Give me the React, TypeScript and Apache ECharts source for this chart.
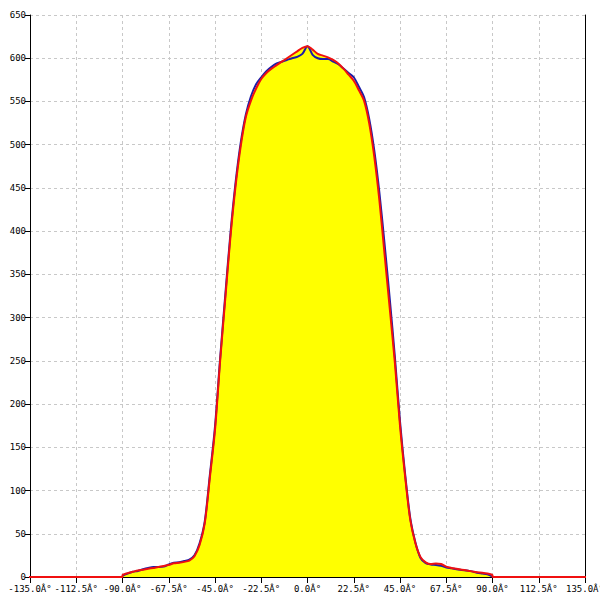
import React, { useEffect, useRef } from "react";
import * as echarts from "echarts";

const angles = [
  -90, -87.5, -85, -82.5, -80, -77.5, -75, -72.5, -70, -67.5, -65, -62.5, -60, -57.5, -55, -52.5,
  -50, -47.5, -45, -42.5, -40, -37.5, -35, -32.5, -30, -27.5, -25, -22.5, -20, -17.5, -15, -12.5,
  -10, -7.5, -5, -2.5, 0, 2.5, 5, 7.5, 10, 12.5, 15, 17.5, 20, 22.5, 25, 27.5, 30, 32.5, 35, 37.5,
  40, 42.5, 45, 47.5, 50, 52.5, 55, 57.5, 60, 62.5, 65, 67.5, 70, 72.5, 75, 77.5, 80, 82.5, 85,
  87.5, 90,
];

const redValues = [
  2, 4.5, 6, 7.5, 8.5, 9.5, 10.5, 11.5, 12.7, 14, 15.8, 16.5, 17.5, 19, 24, 37,
  62, 115, 170, 250, 322, 393, 452, 498, 532, 551, 565, 576, 583, 588, 592, 596,
  600, 604, 608, 612, 614, 610, 605, 603, 601, 598, 594, 588, 581, 574, 563, 551, 525, 486, 435, 373,
  311, 248, 175, 116, 66, 39, 23, 17, 15, 15.5, 15, 12, 10.5, 9.5, 8.5, 7.5, 6.5, 5.5, 5,
  4, 2,
];

const blueValues = [
  1.5, 4, 6, 7, 9, 10.5, 11.5, 11.5, 12, 14.5, 16.5, 17, 18.5, 20, 25, 39,
  64, 118, 174, 253, 326, 397, 456, 502, 535, 556, 570, 578, 585, 590, 594, 596,
  598, 600, 601.5, 605, 614, 604, 600, 599, 599, 596, 593, 588, 583, 578, 567, 555, 530, 493, 444, 385,
  322, 255, 180, 119, 68, 40, 22, 16, 14.5, 14, 13, 11, 10, 9, 8, 7.5, 6.5, 5, 4,
  3, 0.5,
];

// red trace continues at zero outside the measured range
const redOuterLeft = [-160, -90];
const redOuterRight = [90, 160];

const xTicks = { min: -135, max: 135, step: 22.5 };
const yTicks = { min: 0, max: 650, step: 50 };

export default function App() {
  const ref = useRef<HTMLDivElement>(null);

  useEffect(() => {
    if (!ref.current) return;
    const chart = echarts.init(ref.current, undefined, { renderer: "svg" });

    const redData: [number, number][] = [
      [redOuterLeft[0], 0],
      [redOuterLeft[1], 0],
      ...angles.map((a, i) => [a, redValues[i]] as [number, number]),
      [redOuterRight[0], 0],
      [redOuterRight[1], 0],
    ];
    const areaData = angles.map((a, i) => [a, redValues[i]]);
    const blueData = angles.map((a, i) => [a, blueValues[i]]);

    const font = "DejaVu Sans Mono";
    const smooth = 0.3;

    chart.setOption({
      animation: false,
      backgroundColor: "#ffffff",
      grid: {
        left: 30,
        right: 15,
        top: 15,
        bottom: 23,
        containLabel: false,
        outerBoundsMode: "none",
      },
      xAxis: {
        type: "value",
        min: xTicks.min,
        max: xTicks.max,
        interval: xTicks.step,
        axisLine: { show: true, onZero: false, lineStyle: { color: "#000", width: 1 } },
        axisTick: { show: true, length: 6, lineStyle: { color: "#000" } },
        axisLabel: {
          show: true,
          showMinLabel: true,
          showMaxLabel: true,
          hideOverlap: false,
          color: "#000",
          fontFamily: font,
          fontSize: 9,
          margin: 7,
          formatter: (v: number) => v.toFixed(1) + "Â°",
        },
        splitLine: { show: true, lineStyle: { color: "#c8c8c8", type: [3, 3], width: 1 } },
      },
      yAxis: [
        {
          type: "value",
          min: yTicks.min,
          max: yTicks.max,
          interval: yTicks.step,
          axisLine: { show: true, onZero: false, lineStyle: { color: "#000", width: 1 } },
          axisTick: { show: true, length: 5, lineStyle: { color: "#000" } },
          axisLabel: {
            show: true,
            color: "#000",
            fontFamily: font,
            fontSize: 9,
            margin: 4,
          },
          splitLine: { show: true, lineStyle: { color: "#c8c8c8", type: [3, 3], width: 1 } },
        },
        {
          type: "value",
          position: "right",
          min: yTicks.min,
          max: yTicks.max,
          interval: yTicks.step,
          axisLine: { show: true, onZero: false, lineStyle: { color: "#000", width: 1 } },
          axisTick: { show: false },
          axisLabel: { show: false },
          splitLine: { show: false },
        },
      ],
      series: [
        {
          type: "line",
          data: areaData,
          symbol: "none",
          smooth,
          lineStyle: { width: 0, opacity: 0 },
          areaStyle: { color: "#ffff00", opacity: 1 },
          z: 1,
        },
        {
          type: "line",
          data: blueData,
          symbol: "none",
          smooth,
          lineStyle: { color: "#1c1ca8", width: 2 },
          z: 2,
        },
        {
          type: "line",
          data: redData,
          symbol: "none",
          smooth,
          clip: false,
          lineStyle: { color: "#f01010", width: 2 },
          z: 3,
        },
      ],
    });

    return () => chart.dispose();
  }, []);

  return (
    <div
      ref={ref}
      style={{ width: 600, height: 600, position: "absolute", left: 0, top: 0 }}
    />
  );
}
